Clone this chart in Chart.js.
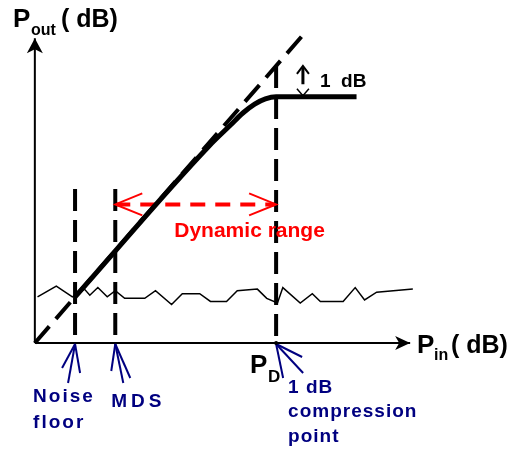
<!DOCTYPE html>
<html>
<head>
<meta charset="utf-8">
<title>Dynamic range</title>
<script src="https://cdn.jsdelivr.net/npm/chart.js@4.4.1/dist/chart.umd.min.js"></script>
<style>
    html, body { margin: 0; padding: 0; background: #fff; }
    #wrap { width: 508px; height: 452px; }
</style>
</head>
<body>
<div id="wrap"><canvas id="chartRange" width="508" height="452"></canvas></div>
<script>
// input levels of the marked points (dB) and how high their guide lines go
const markerNames = ["Noise floor", "MDS", "1 dB compression point"]
const markerIn = [1.5, 3, 9]
const markerTop = [5, 5, 9]

// axis extents (dB)
const axisEndIn = 14
const axisEndOut = 9.9

// ideal linear amplifier, Pout = Pin
const idealIn = [0, 10]
const idealOut = [0, 10]

// real amplifier, starts at the noise floor and compresses past PD
const actualIn = [1.5, 6.5, 7.3, 7.76, 8.2, 8.6, 9, 12]
const actualOut = [1.5, 6.4, 7.08, 7.47, 7.76, 7.93, 8, 8]

// output noise
const noiseIn = [0.1, 0.8, 1.4, 1.85, 2.05, 2.35, 2.7, 3.0, 3.35, 4.1, 4.5, 5.1, 5.5, 6.15, 6.55, 7.15, 7.55, 8.3, 8.65, 9.05, 9.25, 9.9, 10.35, 10.65, 11.5, 11.95, 12.3, 12.75, 14.1]
const noiseOut = [1.5, 1.85, 1.5, 1.75, 1.55, 1.8, 1.5, 1.7, 1.45, 1.45, 1.7, 1.25, 1.6, 1.6, 1.35, 1.35, 1.7, 1.75, 1.45, 1.3, 1.8, 1.3, 1.6, 1.35, 1.35, 1.8, 1.4, 1.65, 1.75]

// dynamic range span (MDS to PD) and the level it is drawn at
const rangeIn = [3, 9]
const rangeLevel = 4.5

// 1 dB gap between ideal and compressed output
const gapIn = 10
const gapOut = [9, 8]

const pts = (xs, ys) => xs.map((x, i) => ({ x: x, y: ys[i] }))

const BOLD = "'Liberation Sans', Arial, sans-serif"
const NAVY = "#000080"

function line(data, color, width, dash) {
    return {
        data: data,
        borderColor: color,
        borderWidth: width,
        borderDash: dash || [],
        pointRadius: 0,
        fill: false,
        tension: 0,
    }
}

const datasets = [
    line(pts([0, axisEndIn], [0, 0]), "#000", 2),
    line(pts([0, 0], [0, axisEndOut]), "#000", 2),
    line(pts(noiseIn, noiseOut), "#000", 1.5),
    line(pts(idealIn, idealOut), "#000", 4, [22, 10]),
]
markerIn.forEach(function (v, i) {
    datasets.push(line(pts([v, v], [markerTop[i], 0]), "#000", 4, [22, 9]))
})
const actual = line(pts(actualIn, actualOut), "#000", 5)
actual.cubicInterpolationMode = "monotone"
datasets.push(actual)
datasets.push(line(pts(rangeIn, [rangeLevel, rangeLevel]), "#ff0000", 4, [15, 10]))
datasets.push(line(pts([gapIn, gapIn], [gapOut[0] - 0.05, gapOut[1] + 0.4]), "#000", 3))

function stroke(ctx, coords, color, width) {
    ctx.beginPath()
    ctx.moveTo(coords[0], coords[1])
    for (let i = 2; i < coords.length; i += 2) ctx.lineTo(coords[i], coords[i + 1])
    ctx.strokeStyle = color
    ctx.lineWidth = width
    ctx.setLineDash([])
    ctx.stroke()
}

function text(ctx, str, x, y, size, color, spacing) {
    ctx.font = "bold " + size + "px " + BOLD
    ctx.fillStyle = color
    ctx.letterSpacing = (spacing || 0) + "px"
    ctx.textAlign = "left"
    ctx.textBaseline = "alphabetic"
    ctx.fillText(str, x, y)
    ctx.letterSpacing = "0px"
}

const annotations = {
    id: "annotations",
    afterDatasetsDraw(chart) {
        const ctx = chart.ctx
        const sx = chart.scales.x
        const sy = chart.scales.y
        const px = (v) => sx.getPixelForValue(v)
        const py = (v) => sy.getPixelForValue(v)
        ctx.save()
        ctx.lineCap = "butt"

        // axis arrowheads
        const ox = px(0), oy = py(0)
        const ty = py(axisEndOut), tx = px(axisEndIn)
        ctx.fillStyle = "#000"
        ctx.beginPath()
        ctx.moveTo(ox, ty)
        ctx.lineTo(ox - 8, ty + 15)
        ctx.lineTo(ox, ty + 11)
        ctx.lineTo(ox + 8, ty + 15)
        ctx.closePath()
        ctx.fill()
        ctx.beginPath()
        ctx.moveTo(tx, oy)
        ctx.lineTo(tx - 15, oy - 7)
        ctx.lineTo(tx - 11, oy)
        ctx.lineTo(tx - 15, oy + 7)
        ctx.closePath()
        ctx.fill()

        // dynamic range arrow heads
        const ry = py(rangeLevel)
        const rl = px(rangeIn[0]), rr = px(rangeIn[1])
        stroke(ctx, [rl + 27, ry - 11, rl, ry, rl + 27, ry + 11], "#ff0000", 2)
        stroke(ctx, [rr - 27, ry - 11, rr, ry, rr - 27, ry + 11], "#ff0000", 2)

        // 1 dB arrow heads
        const gx = px(gapIn)
        const gTop = py(gapOut[0]), gBot = py(gapOut[1])
        stroke(ctx, [gx - 6, gTop + 8, gx, gTop, gx + 6, gTop + 8], "#000", 2)
        stroke(ctx, [gx - 6, gBot - 8, gx, gBot - 1, gx + 6, gBot - 8], "#000", 1.5)

        // pointers from the labels up to the axis
        const fans = [
            [[-13, 24], [-7, 39], [5, 29]],
            [[-4, 27], [8, 39], [15, 34]],
            [[7, 34], [26, 13], [27, 29]],
        ]
        markerIn.forEach(function (v, i) {
            const x0 = px(v), y0 = oy + 1
            fans[i].forEach(function (d) {
                stroke(ctx, [x0, y0, x0 + d[0], y0 + d[1]], NAVY, 2)
            })
        })
        ctx.fillStyle = "#000"
        ctx.beginPath()
        ctx.arc(px(markerIn[2]), oy, 2, 0, Math.PI * 2)
        ctx.fill()

        // axis titles
        text(ctx, "P", 13, 27, 26, "#000")
        text(ctx, "out", 31, 35, 16, "#000")
        text(ctx, "( dB)", 61, 27, 25, "#000")
        text(ctx, "P", 417, 353, 26, "#000")
        text(ctx, "in", 434, 360, 16, "#000")
        text(ctx, "( dB)", 451, 353, 25, "#000")
        text(ctx, "P", px(markerIn[2]) - 26, 373, 26, "#000")
        text(ctx, "D", px(markerIn[2]) - 8, 382, 17, "#000")

        text(ctx, "1  dB", gx + 17, 87, 19, "#000")
        text(ctx, "Dynamic range", px(rangeIn[0]) + 59, 237, 21, "#ff0000")

        // marker names
        const nf = markerNames[0].split(" ")
        text(ctx, nf[0], px(markerIn[0]) - 42, 402, 19, NAVY, 2)
        text(ctx, nf[1], px(markerIn[0]) - 42, 428, 19, NAVY, 2)
        text(ctx, markerNames[1], px(markerIn[1]) - 4, 407, 19, NAVY, 4)
        const cp = markerNames[2].split(" ")
        const cx = px(markerIn[2]) + 12
        text(ctx, cp[0] + " " + cp[1], cx, 393, 19, NAVY, 1)
        text(ctx, cp[2], cx, 417, 19, NAVY, 1)
        text(ctx, cp[3], cx, 442, 19, NAVY, 1)
        ctx.restore()
    },
}

const configRange = {
    type: "line",
    data: { datasets: datasets },
    options: {
        responsive: false,
        animation: false,
        events: [],
        layout: { padding: 0 },
        plugins: { legend: { display: false }, tooltip: { enabled: false } },
        scales: {
            x: { type: "linear", min: -1.3, max: 17.65, display: false },
            y: { type: "linear", min: -3.54, max: 11.14, display: false },
        },
    },
    plugins: [annotations],
}
var chartRange = new Chart(document.getElementById("chartRange"), configRange)
</script>
</body>
</html>
